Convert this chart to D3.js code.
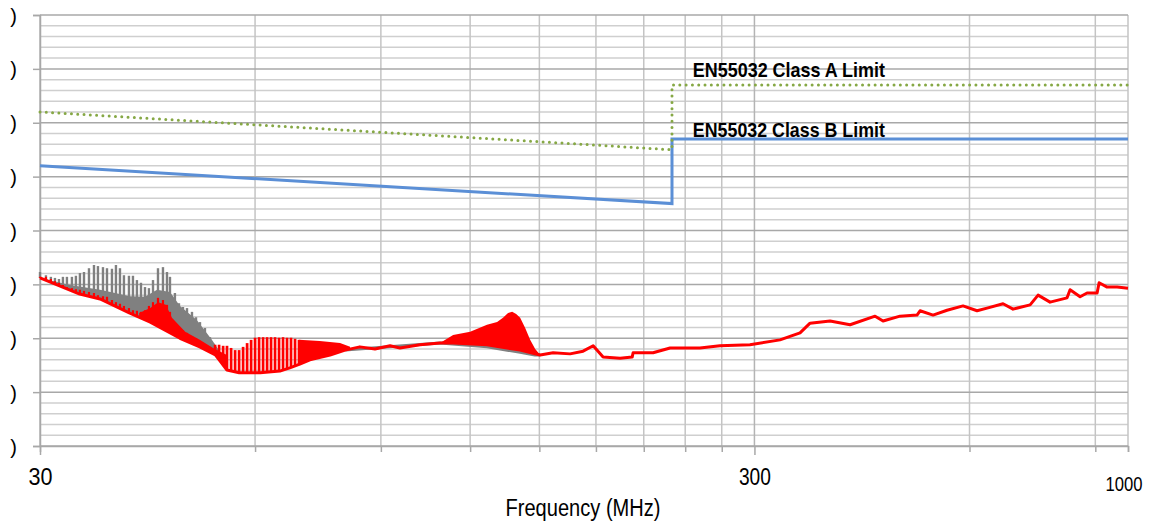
<!DOCTYPE html>
<html>
<head>
<meta charset="utf-8">
<script src="https://cdn.jsdelivr.net/npm/d3@7"></script>
<style>
body { margin: 0; background: #fff; }
text { font-family: "Liberation Sans Narrow", "Arial Narrow", "Liberation Sans", Arial, sans-serif; }
</style>
</head>
<body>
<svg id="chart" width="1153" height="525"></svg>
<script>
// axis ticks
var yMajor = [0, 10, 20, 30, 40, 50, 60, 70, 80]
var yMinor = [2, 4, 6, 8, 12, 14, 16, 18, 22, 24, 26, 28, 32, 34, 36, 38, 42, 44, 46, 48, 52, 54, 56, 58, 62, 64, 66, 68, 72, 74, 76, 78]
var xMajorTicks = [30, 300]
var xMinorTicks = [60, 90, 120, 150, 180, 210, 240, 270, 600, 900, 1000]

// EN55032 limit lines
var limitFreq = [30, 230, 230, 1000]
var classA = [62, 55, 67, 67]
var classB = [52, 45, 57, 57]

// comb of harmonics, 30-52 MHz
var combFreq = [30.0, 30.58, 31.07, 31.48, 31.89, 32.30, 32.72, 33.25, 33.68, 34.12, 34.57, 35.13, 35.70, 36.16, 36.75, 37.23, 37.83, 38.32, 38.82, 39.32, 39.96, 40.48, 41.00, 41.54, 42.08, 42.62, 43.18, 43.88, 44.59, 45.17, 45.61, 46.34, 46.95, 47.56, 48.18, 48.96, 49.60, 50.24, 51.05, 51.88, 52.39]
var grayPeak = [32.3, 31.7, 31.4, 31.2, 31.0, 31.4, 31.4, 31.4, 31.6, 32.1, 32.3, 33.0, 33.6, 33.4, 33.2, 33.0, 32.9, 33.6, 33.0, 31.7, 31.6, 31.6, 30.8, 30.3, 29.5, 29.3, 30.8, 33.0, 33.2, 32.3, 31.4, 28.4, 26.5, 25.8, 25.6, 24.9, 23.9, 23.0, 21.9, 20.2, 19.1]
var redPeak = [31.4, 31.4, 31.0, 30.6, 30.3, 29.9, 29.5, 29.3, 29.1, 29.0, 28.8, 28.6, 28.4, 28.0, 27.8, 27.7, 27.1, 26.7, 26.4, 26.0, 25.6, 25.2, 25.1, 24.9, 25.2, 26.0, 26.7, 27.5, 27.1, 26.2, 24.9, 23.0, 21.9, 21.5, 21.0, 20.4, 20.0, 19.5, 18.9, 18.4, 18.0]

// second comb 52-69 MHz (red only)
var comb2Freq = [52.75, 53.43, 54.13, 54.81, 55.54, 56.26, 56.99, 57.73, 58.48, 59.24, 60.00, 60.78, 61.57, 62.37, 63.17, 63.99, 64.82, 65.66, 66.51, 67.37, 68.25, 69.13]
var redComb2 = [18.8, 18.8, 18.6, 18.6, 18.2, 17.8, 17.8, 18.4, 19.1, 19.7, 20.1, 20.2, 20.2, 20.2, 20.2, 20.2, 20.1, 20.2, 20.1, 20.1, 19.9, 19.7]

// filled envelopes [MHz, level]
var grayFillTop = [[30.0, 31.2], [33.05, 29.9], [36.4, 29.0], [40.1, 27.8], [42.08, 27.7], [43.75, 29.0], [45.61, 28.6], [47.1, 26.0], [49.72, 23.4], [52.2, 19.7], [54.5, 16.0]]
var redBand1 = [[41.3, 24.7], [42.8, 25.6], [43.9, 26.7], [45.0, 26.2], [45.9, 23.8], [47.9, 21.2], [50.2, 19.7], [52.4, 18.2], [54.8, 16.9]]
var redBand2 = [[69.1, 19.7], [73.9, 19.5], [78.9, 19.1], [81.5, 18.4]]
var redBand3 = [[108.9, 19.1], [113.6, 20.6], [120, 21.2], [126.7, 22.5], [130.9, 23.0], [133.4, 23.8], [135.6, 24.7], [137.4, 24.9], [139.2, 24.5], [141.0, 23.8], [143.3, 21.9], [145.6, 19.7], [148.0, 18.0], [150.4, 16.9]]
var grayLow = [[80.2, 17.8], [108.9, 19.1], [126.7, 18.4], [141.0, 17.4], [147.8, 16.9], [150.4, 16.9]]

// main measured trace (lower envelope)
var redBase = [[30.0, 31.2], [34.1, 28.2], [36.4, 27.3], [40.0, 24.7], [42.8, 23.0], [47.1, 20.0], [50.2, 18.4], [52.8, 16.9], [54.8, 14.1], [57.0, 13.6], [61.0, 13.6], [65.0, 13.9], [67.1, 14.5], [69.3, 15.2], [71.6, 16.0], [76.4, 16.9], [80.2, 17.8], [84.1, 18.4], [88.3, 18.0], [92.7, 18.6], [95.7, 18.2], [102.1, 18.8], [108.9, 19.1], [113.6, 19.1], [126.7, 18.8], [141.0, 17.8], [150.4, 16.9], [156.8, 17.3], [165.6, 17.1], [172.7, 17.6], [178.4, 18.6], [184.2, 16.5], [194.6, 16.3], [202.3, 16.5], [202.9, 17.3], [216.4, 17.3], [228.6, 18.2], [251.7, 18.2], [268.4, 18.6], [295.7, 18.8], [325.8, 19.7], [347.5, 21.0], [358.9, 22.8], [382.8, 23.2], [408.3, 22.5], [442.6, 24.1], [454.1, 23.2], [479.6, 24.1], [506.6, 24.3], [511.6, 25.1], [533.5, 24.3], [558.1, 25.2], [587.6, 26.0], [614.8, 25.1], [634.9, 25.6], [668.5, 26.4], [690.4, 25.4], [729.4, 26.2], [748.4, 28.0], [777.9, 26.7], [821.7, 27.5], [829.7, 29.0], [856.9, 27.7], [876.4, 28.4], [905.2, 28.4], [911.1, 30.3], [934.9, 29.5], [965.6, 29.5], [1000, 29.3]]

var svg = d3.select('#chart')
var x = d3.scaleLog().domain([30, 1000]).range([40, 1128])
var y = d3.scaleLinear().domain([0, 80]).range([446, 15])

// level of the base trace at a frequency (for drawing spikes down to it)
function baseAt(f) {
    var i = d3.bisector(d => d[0]).left(redBase, f)
    if (i <= 0) return redBase[0][1]
    if (i >= redBase.length) return redBase[redBase.length - 1][1]
    var a = redBase[i - 1], b = redBase[i]
    var t = (Math.log(f) - Math.log(a[0])) / (Math.log(b[0]) - Math.log(a[0]))
    return a[1] + t * (b[1] - a[1])
}

// grid
var grid = svg.append('g')
grid.selectAll('.hmin').data(yMinor).enter().append('line')
    .attr('x1', 40).attr('x2', 1128)
    .attr('y1', d => y(d)).attr('y2', d => y(d))
    .attr('stroke', '#cfcfcf').attr('stroke-width', 1.5)
grid.selectAll('.vmin').data(xMinorTicks).enter().append('line')
    .attr('x1', d => x(d)).attr('x2', d => x(d))
    .attr('y1', y(80)).attr('y2', y(0))
    .attr('stroke', '#c4c4c4').attr('stroke-width', 1.5)
grid.selectAll('.vmaj').data(xMajorTicks).enter().append('line')
    .attr('x1', d => x(d)).attr('x2', d => x(d))
    .attr('y1', y(80)).attr('y2', y(0))
    .attr('stroke', '#b4b4b4').attr('stroke-width', 1.5)
grid.selectAll('.hmaj').data(yMajor).enter().append('line')
    .attr('x1', 40).attr('x2', 1128)
    .attr('y1', d => y(d)).attr('y2', d => y(d))
    .attr('stroke', '#a8a8a8').attr('stroke-width', 1.5)

// axes
var yAxis = svg.append('g').attr('transform', 'translate(40,0)')
    .call(d3.axisLeft(y).tickValues(yMajor).tickSize(7).tickPadding(16).tickFormat(() => ')'))
yAxis.select('.domain').attr('stroke', '#a8a8a8').attr('stroke-width', 1.5)
yAxis.selectAll('line').attr('stroke', '#a8a8a8').attr('stroke-width', 1.5)
yAxis.selectAll('text').attr('font-size', 20).attr('fill', '#000').attr('dy', '0.35em')

var xAxis = svg.append('g').attr('transform', 'translate(0,446)')
    .call(d3.axisBottom(x).tickValues(xMinorTicks).tickSize(6).tickFormat(''))
xAxis.select('.domain').attr('stroke', '#a8a8a8').attr('stroke-width', 1.5)
xAxis.selectAll('line').attr('stroke', '#a8a8a8').attr('stroke-width', 1.5)
var xAxis2 = svg.append('g').attr('transform', 'translate(0,446)')
    .call(d3.axisBottom(x).tickValues(xMajorTicks).tickSize(9).tickPadding(13).tickFormat(d3.format('d')))
xAxis2.select('.domain').remove()
xAxis2.selectAll('line').attr('stroke', '#a8a8a8').attr('stroke-width', 1.5)
xAxis2.selectAll('text').attr('font-size', 24).attr('fill', '#000')
    .attr('textLength', d => d < 100 ? 24 : 32).attr('lengthAdjust', 'spacingAndGlyphs')

svg.append('text').attr('x', x(1000) - 4).attr('y', 491).attr('text-anchor', 'middle')
    .attr('font-size', 21).attr('textLength', 37).attr('lengthAdjust', 'spacingAndGlyphs')
    .text(x.domain()[1])

svg.append('text').attr('x', 583).attr('y', 516).attr('text-anchor', 'middle')
    .attr('font-size', 23).attr('textLength', 155).attr('lengthAdjust', 'spacingAndGlyphs')
    .text('Frequency (MHz)')

// measured data
var plot = svg.append('g')
var lineF = d3.line().x(d => x(d[0])).y(d => y(d[1]))
var bandArea = d3.area().x(d => x(d[0])).y0(d => y(baseAt(d[0]))).y1(d => y(d[1]))

plot.append('path').datum(grayFillTop).attr('d', bandArea).attr('fill', '#808080')
plot.selectAll('.gspike').data(combFreq).enter().append('line')
    .attr('x1', d => x(d)).attr('x2', d => x(d))
    .attr('y1', d => y(baseAt(d))).attr('y2', (d, i) => y(grayPeak[i]))
    .attr('stroke', '#808080').attr('stroke-width', 2.4)
plot.append('path').datum(grayLow).attr('d', lineF)
    .attr('fill', 'none').attr('stroke', '#808080').attr('stroke-width', 3)

plot.selectAll('.rband').data([redBand1, redBand2, redBand3]).enter().append('path')
    .attr('d', bandArea).attr('fill', '#ff0000')
plot.selectAll('.rspike').data(combFreq).enter().append('line')
    .attr('x1', d => x(d)).attr('x2', d => x(d))
    .attr('y1', d => y(baseAt(d))).attr('y2', (d, i) => y(redPeak[i]))
    .attr('stroke', '#ff0000').attr('stroke-width', 2.2)
plot.selectAll('.rspike2').data(comb2Freq).enter().append('line')
    .attr('x1', d => x(d)).attr('x2', d => x(d))
    .attr('y1', d => y(baseAt(d))).attr('y2', (d, i) => y(redComb2[i]))
    .attr('stroke', '#ff0000').attr('stroke-width', 2.7)
plot.append('path').datum(redBase).attr('d', lineF)
    .attr('fill', 'none').attr('stroke', '#ff0000').attr('stroke-width', 3)
    .attr('stroke-linejoin', 'round')

// limit lines
var limitLine = d3.line().x(d => x(d.f)).y(d => y(d.v))
plot.append('path').datum(limitFreq.map((f, i) => ({ f: f, v: classB[i] })))
    .attr('d', limitLine).attr('fill', 'none').attr('stroke', '#5b8fd6').attr('stroke-width', 3)
plot.append('path').datum(limitFreq.map((f, i) => ({ f: f, v: classA[i] })))
    .attr('d', limitLine).attr('fill', 'none').attr('stroke', '#86a845').attr('stroke-width', 3)
    .attr('stroke-dasharray', '0,6.3').attr('stroke-linecap', 'round')

plot.append('text').attr('x', x(246)).attr('y', y(classA[2]) - 8)
    .attr('font-size', 21).attr('font-weight', 'bold')
    .attr('textLength', 192).attr('lengthAdjust', 'spacingAndGlyphs')
    .text('EN55032 Class A Limit')
plot.append('text').attr('x', x(246)).attr('y', y(classB[2]) - 2)
    .attr('font-size', 21).attr('font-weight', 'bold')
    .attr('textLength', 192).attr('lengthAdjust', 'spacingAndGlyphs')
    .text('EN55032 Class B Limit')
</script>
</body>
</html>
